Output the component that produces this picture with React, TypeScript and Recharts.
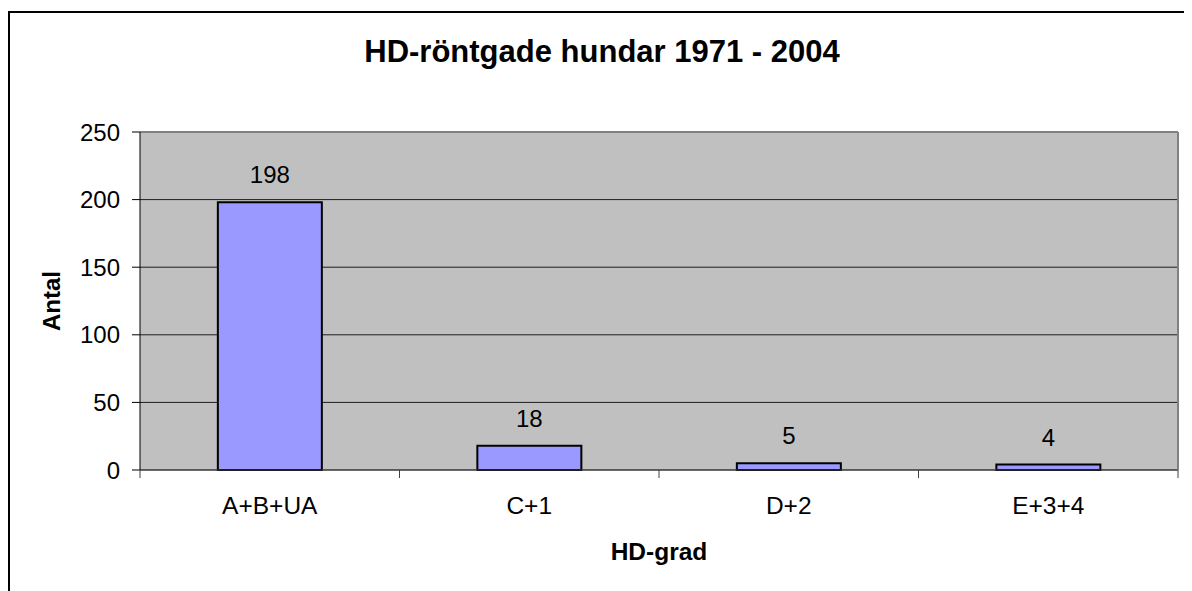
import { BarChart, Bar, XAxis, YAxis, CartesianGrid, LabelList, Label } from "recharts";

const categories = ["A+B+UA", "C+1", "D+2", "E+3+4"];
const antal = [198, 18, 5, 4];
const yTicks = [0, 50, 100, 150, 200, 250];

const data = categories.map((grad, i) => ({ grad, antal: antal[i] }));

const font = "'Liberation Sans', Arial, sans-serif";
const TICK_SIZE = 8;
const TICK_MARGIN = 19;

// category label + tick marks on the category boundaries (Excel style)
function CatTick(props: any) {
  const { x, y, payload, index, visibleTicksCount } = props;
  const half = payload.offset || 0;
  const y0 = y - TICK_SIZE - TICK_MARGIN;
  const last = index === visibleTicksCount - 1;
  return (
    <g>
      <line x1={x - half} x2={x - half} y1={y0} y2={y0 + TICK_SIZE} stroke="#404040" />
      {last && <line x1={x + half} x2={x + half} y1={y0} y2={y0 + TICK_SIZE} stroke="#404040" />}
      <text x={x} y={y} dy="0.71em" textAnchor="middle" fill="#000" fontSize={24.5} fontFamily={font}>
        {payload.value}
      </text>
    </g>
  );
}

export default function App() {
  return (
    <div style={{ position: "relative", width: 1184, height: 583, overflow: "hidden", fontFamily: font }}>
      <div
        style={{
          position: "absolute",
          left: 0,
          top: 3,
          width: 1200,
          height: 620,
          border: "2px solid #000",
          boxSizing: "border-box",
        }}
      />
      <div
        style={{
          position: "absolute",
          left: 0,
          top: 28,
          width: 1188,
          textAlign: "center",
          fontSize: 31,
          lineHeight: "31px",
          fontWeight: "bold",
        }}
      >
        HD-röntgade hundar 1971 - 2004
      </div>
      <div style={{ position: "absolute", left: 0, top: 0 }}>
        <BarChart
          width={1184}
          height={583}
          data={data}
          barCategoryGap="30%"
          margin={{ top: 123, right: 13, left: 20, bottom: 21 }}
        >
          <CartesianGrid vertical={false} fill="#c0c0c0" stroke="#000" strokeOpacity={0.85} />
          <XAxis
            dataKey="grad"
            height={100}
            tickLine={false}
            axisLine={{ stroke: "#404040" }}
            tickSize={TICK_SIZE}
            tickMargin={TICK_MARGIN}
            tick={<CatTick />}
          >
            <Label
              value="HD-grad"
              position="insideBottom"
              offset={10}
              style={{ fill: "#000", fontSize: 24.5, fontWeight: "bold", fontFamily: font }}
            />
          </XAxis>
          <XAxis
            xAxisId="top"
            orientation="top"
            type="number"
            domain={[0, 4]}
            allowDataOverflow
            height={1}
            tick={false}
            tickLine={false}
            axisLine={{ stroke: "#808080", strokeWidth: 2 }}
          />
          <YAxis
            domain={[0, 250]}
            ticks={yTicks}
            width={112}
            tickSize={8}
            tickMargin={12}
            tickLine={{ stroke: "#000" }}
            axisLine={{ stroke: "#000" }}
            tick={{ fill: "#000", fontSize: 24, fontFamily: font }}
          >
            <Label
              value="Antal"
              angle={-90}
              position="insideLeft"
              offset={23.5}
              textAnchor="middle"
              style={{ fill: "#000", fontSize: 24, fontWeight: "bold", fontFamily: font, textAnchor: "middle" }}
            />
          </YAxis>
          <YAxis
            yAxisId="r"
            orientation="right"
            domain={[0, 250]}
            width={1}
            tick={false}
            tickLine={false}
            axisLine={{ stroke: "#808080", strokeWidth: 2 }}
          />
          <Bar dataKey="antal" fill="#9999ff" stroke="#000" strokeWidth={2} isAnimationActive={false}>
            <LabelList
              dataKey="antal"
              position="top"
              offset={19}
              style={{ fill: "#000", fontSize: 24, fontFamily: font }}
            />
          </Bar>
        </BarChart>
      </div>
    </div>
  );
}
